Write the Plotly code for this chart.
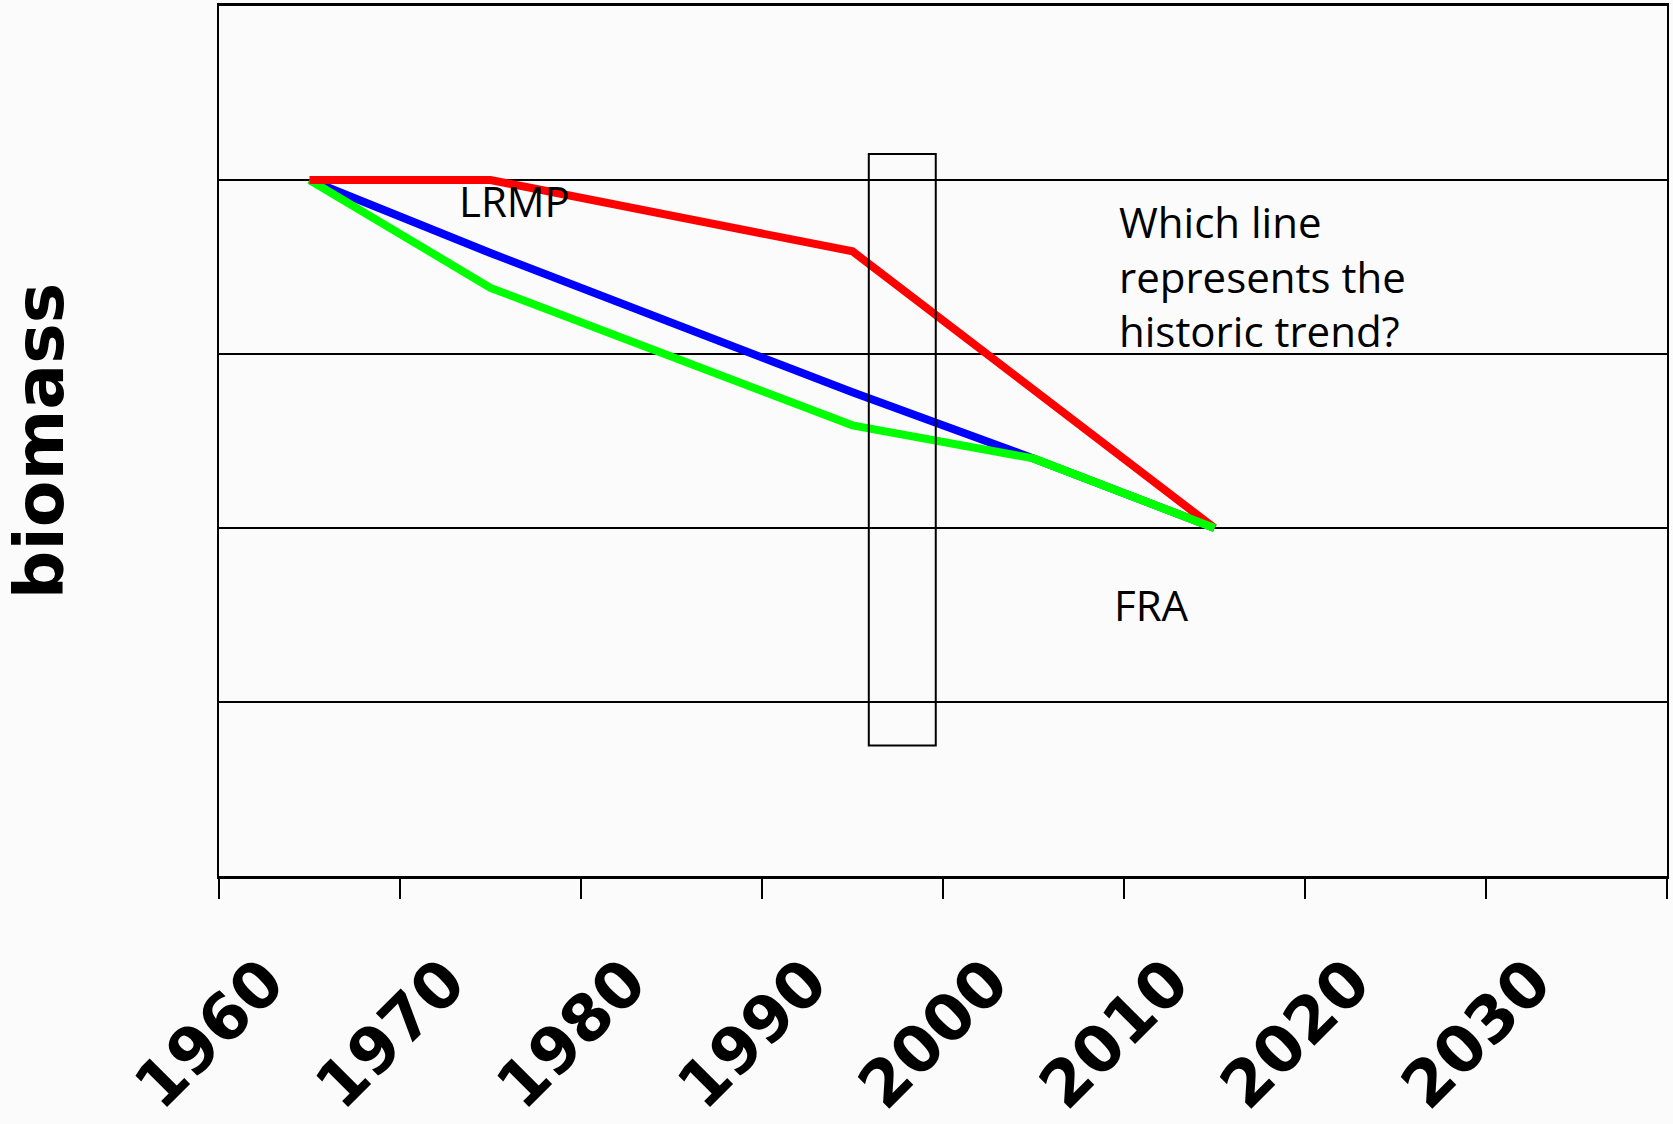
import plotly.graph_objects as go

# ---- data ----
years_red = [1965, 1975, 1995, 2015]
biomass_red = [4.0, 4.0, 3.59, 2.0]

years_blue = [1965, 1975, 1995, 2005, 2015]
biomass_blue = [4.0, 3.58, 2.78, 2.40, 2.0]

years_green = [1965, 1975, 1995, 2005, 2015]
biomass_green = [4.0, 3.38, 2.59, 2.40, 2.0]

tick_years = [1960, 1970, 1980, 1990, 2000, 2010, 2020, 2030, 2040]
tick_labels = ["1960", "1970", "1980", "1990", "2000", "2010", "2020", "2030", ""]

# highlighted window (years, biomass)
box_years = [1995.9, 1999.6]
box_biomass = [0.75, 4.15]

BG = "#fbfbfb"
LW = 8

fig = go.Figure()
fig.add_trace(go.Scatter(x=years_blue, y=biomass_blue, mode="lines",
                         line=dict(color="#0000ff", width=LW), hoverinfo="skip"))
fig.add_trace(go.Scatter(x=years_green, y=biomass_green, mode="lines",
                         line=dict(color="#00ff00", width=LW), hoverinfo="skip"))
fig.add_trace(go.Scatter(x=years_red, y=biomass_red, mode="lines",
                         line=dict(color="#ff0000", width=LW), hoverinfo="skip"))
# green tail drawn on top (it overlays blue/red near the end)
fig.add_trace(go.Scatter(x=years_green[3:], y=biomass_green[3:], mode="lines",
                         line=dict(color="#00ff00", width=LW), hoverinfo="skip"))

fig.add_shape(type="rect", xref="x", yref="y",
              x0=box_years[0], x1=box_years[1], y0=box_biomass[0], y1=box_biomass[1],
              line=dict(color="black", width=2), fillcolor="rgba(0,0,0,0)")

ann_font = dict(family="Open Sans", size=42, color="black")
fig.add_annotation(x=1976.3, y=3.88, text="LRMP", showarrow=False,
                   xanchor="center", yanchor="middle", font=ann_font)
fig.add_annotation(x=2009.6, y=3.45, text="Which line<br>represents the<br>historic trend?",
                   showarrow=False, xanchor="left", yanchor="middle", align="left",
                   font=ann_font)
fig.add_annotation(x=2011.5, y=1.56, text="FRA", showarrow=False,
                   xanchor="center", yanchor="middle", font=ann_font)

fig.update_xaxes(range=[1960, 2040], tickmode="array", tickvals=tick_years,
                 ticktext=tick_labels, tickangle=-45, ticks="outside", ticklen=20,
                 tickwidth=2, tickcolor="black", showgrid=False, zeroline=False,
                 showline=True, linecolor="black", linewidth=2.5, mirror=True,
                 tickfont=dict(family="DejaVu Sans", size=64, color="black", weight="bold"),
                 ticklabelshift=46, ticklabelstandoff=20)
fig.update_yaxes(range=[0, 5], tickvals=[1, 2, 3, 4, 5], showticklabels=False,
                 showgrid=True, gridcolor="black", gridwidth=2, zeroline=False,
                 showline=True, linecolor="black", linewidth=2, mirror=True, ticks="",
                 title=dict(text="biomass", standoff=145,
                            font=dict(family="DejaVu Sans", size=68, color="black",
                                      weight="bold")))

fig.update_layout(width=1673, height=1124, showlegend=False,
                  margin=dict(l=219, r=6, t=6, b=248, autoexpand=False),
                  paper_bgcolor=BG, plot_bgcolor=BG)

fig.write_html("out.html", config={"displayModeBar": False},
               post_script="document.body.style.margin='0';document.body.style.overflow='hidden';")
